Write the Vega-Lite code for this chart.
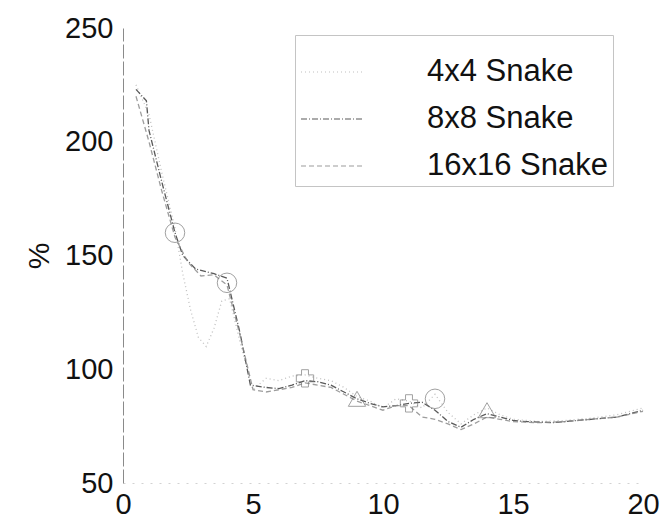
{
  "$schema": "https://vega.github.io/schema/vega-lite/v6.json",
  "width": 520,
  "height": 455,
  "autosize": {"type": "none"},
  "padding": {"left": 123, "top": 28, "right": 20, "bottom": 42},
  "background": "white",
  "config": {
    "view": {"stroke": null},
    "font": "Liberation Sans",
    "axis": {
      "grid": false,
      "ticks": false,
      "labelFont": "Liberation Sans",
      "labelFontSize": 29,
      "labelColor": "#111",
      "titleFont": "Liberation Sans",
      "titleFontSize": 30,
      "titleFontWeight": "normal",
      "titleColor": "#111"
    },
    "legend": {
      "labelFont": "Liberation Sans",
      "labelFontSize": 31,
      "labelColor": "#111",
      "labelLimit": 400
    }
  },
  "datasets": {
    "curves": [
      {"series": "4x4 Snake", "t": 0.5, "pct": 225},
      {"series": "4x4 Snake", "t": 1, "pct": 212},
      {"series": "4x4 Snake", "t": 1.5, "pct": 186},
      {"series": "4x4 Snake", "t": 2, "pct": 162},
      {"series": "4x4 Snake", "t": 2.3, "pct": 142},
      {"series": "4x4 Snake", "t": 2.6, "pct": 126},
      {"series": "4x4 Snake", "t": 2.9, "pct": 114},
      {"series": "4x4 Snake", "t": 3.2, "pct": 110},
      {"series": "4x4 Snake", "t": 3.5, "pct": 118},
      {"series": "4x4 Snake", "t": 3.8, "pct": 130},
      {"series": "4x4 Snake", "t": 4.1, "pct": 131},
      {"series": "4x4 Snake", "t": 4.5, "pct": 112},
      {"series": "4x4 Snake", "t": 5, "pct": 91},
      {"series": "4x4 Snake", "t": 5.5, "pct": 96},
      {"series": "4x4 Snake", "t": 6, "pct": 95},
      {"series": "4x4 Snake", "t": 6.5, "pct": 97},
      {"series": "4x4 Snake", "t": 7, "pct": 97.5},
      {"series": "4x4 Snake", "t": 7.5, "pct": 96},
      {"series": "4x4 Snake", "t": 8, "pct": 95},
      {"series": "4x4 Snake", "t": 8.5, "pct": 92},
      {"series": "4x4 Snake", "t": 9, "pct": 88},
      {"series": "4x4 Snake", "t": 9.5, "pct": 86},
      {"series": "4x4 Snake", "t": 10, "pct": 83},
      {"series": "4x4 Snake", "t": 10.5, "pct": 87},
      {"series": "4x4 Snake", "t": 11, "pct": 86},
      {"series": "4x4 Snake", "t": 11.5, "pct": 83},
      {"series": "4x4 Snake", "t": 12, "pct": 89},
      {"series": "4x4 Snake", "t": 12.5, "pct": 81},
      {"series": "4x4 Snake", "t": 13, "pct": 76},
      {"series": "4x4 Snake", "t": 13.5, "pct": 80},
      {"series": "4x4 Snake", "t": 14, "pct": 83},
      {"series": "4x4 Snake", "t": 14.5, "pct": 80},
      {"series": "4x4 Snake", "t": 15, "pct": 78},
      {"series": "4x4 Snake", "t": 16, "pct": 77},
      {"series": "4x4 Snake", "t": 17, "pct": 77.5},
      {"series": "4x4 Snake", "t": 18, "pct": 78.5},
      {"series": "4x4 Snake", "t": 19, "pct": 80},
      {"series": "4x4 Snake", "t": 20, "pct": 83},

      {"series": "8x8 Snake", "t": 0.5, "pct": 223},
      {"series": "8x8 Snake", "t": 0.9, "pct": 218},
      {"series": "8x8 Snake", "t": 1, "pct": 205},
      {"series": "8x8 Snake", "t": 1.5, "pct": 182},
      {"series": "8x8 Snake", "t": 2, "pct": 160},
      {"series": "8x8 Snake", "t": 2.3, "pct": 150},
      {"series": "8x8 Snake", "t": 2.8, "pct": 144},
      {"series": "8x8 Snake", "t": 3.5, "pct": 142},
      {"series": "8x8 Snake", "t": 4, "pct": 140},
      {"series": "8x8 Snake", "t": 4.5, "pct": 116},
      {"series": "8x8 Snake", "t": 4.9, "pct": 93},
      {"series": "8x8 Snake", "t": 5.5, "pct": 92},
      {"series": "8x8 Snake", "t": 6, "pct": 91.5},
      {"series": "8x8 Snake", "t": 6.5, "pct": 93},
      {"series": "8x8 Snake", "t": 7, "pct": 95},
      {"series": "8x8 Snake", "t": 7.5, "pct": 94.5},
      {"series": "8x8 Snake", "t": 8, "pct": 93},
      {"series": "8x8 Snake", "t": 8.5, "pct": 90},
      {"series": "8x8 Snake", "t": 9, "pct": 87},
      {"series": "8x8 Snake", "t": 9.5, "pct": 85},
      {"series": "8x8 Snake", "t": 10, "pct": 83.5},
      {"series": "8x8 Snake", "t": 10.5, "pct": 84},
      {"series": "8x8 Snake", "t": 11, "pct": 85},
      {"series": "8x8 Snake", "t": 11.5, "pct": 85.5},
      {"series": "8x8 Snake", "t": 12, "pct": 82},
      {"series": "8x8 Snake", "t": 12.5, "pct": 77},
      {"series": "8x8 Snake", "t": 13, "pct": 74.5},
      {"series": "8x8 Snake", "t": 13.5, "pct": 78},
      {"series": "8x8 Snake", "t": 14, "pct": 80.5},
      {"series": "8x8 Snake", "t": 14.5, "pct": 79},
      {"series": "8x8 Snake", "t": 15, "pct": 77.5},
      {"series": "8x8 Snake", "t": 15.5, "pct": 77},
      {"series": "8x8 Snake", "t": 16, "pct": 76.8},
      {"series": "8x8 Snake", "t": 16.5, "pct": 76.5},
      {"series": "8x8 Snake", "t": 17, "pct": 77},
      {"series": "8x8 Snake", "t": 17.5, "pct": 77.5},
      {"series": "8x8 Snake", "t": 18, "pct": 78},
      {"series": "8x8 Snake", "t": 18.5, "pct": 78.5},
      {"series": "8x8 Snake", "t": 19, "pct": 79},
      {"series": "8x8 Snake", "t": 19.5, "pct": 80.5},
      {"series": "8x8 Snake", "t": 20, "pct": 82},

      {"series": "16x16 Snake", "t": 0.5, "pct": 220},
      {"series": "16x16 Snake", "t": 1, "pct": 200},
      {"series": "16x16 Snake", "t": 1.5, "pct": 178},
      {"series": "16x16 Snake", "t": 2, "pct": 158},
      {"series": "16x16 Snake", "t": 2.5, "pct": 147},
      {"series": "16x16 Snake", "t": 3, "pct": 141},
      {"series": "16x16 Snake", "t": 3.5, "pct": 141.5},
      {"series": "16x16 Snake", "t": 4, "pct": 137},
      {"series": "16x16 Snake", "t": 4.5, "pct": 115},
      {"series": "16x16 Snake", "t": 5, "pct": 91},
      {"series": "16x16 Snake", "t": 5.5, "pct": 90},
      {"series": "16x16 Snake", "t": 6, "pct": 91},
      {"series": "16x16 Snake", "t": 6.5, "pct": 92},
      {"series": "16x16 Snake", "t": 7, "pct": 94},
      {"series": "16x16 Snake", "t": 7.5, "pct": 93},
      {"series": "16x16 Snake", "t": 8, "pct": 92},
      {"series": "16x16 Snake", "t": 8.5, "pct": 89},
      {"series": "16x16 Snake", "t": 9, "pct": 86},
      {"series": "16x16 Snake", "t": 9.5, "pct": 84},
      {"series": "16x16 Snake", "t": 10, "pct": 82},
      {"series": "16x16 Snake", "t": 10.5, "pct": 84},
      {"series": "16x16 Snake", "t": 11, "pct": 84},
      {"series": "16x16 Snake", "t": 11.5, "pct": 79},
      {"series": "16x16 Snake", "t": 12, "pct": 78},
      {"series": "16x16 Snake", "t": 12.5, "pct": 76},
      {"series": "16x16 Snake", "t": 13, "pct": 73.5},
      {"series": "16x16 Snake", "t": 13.5, "pct": 76},
      {"series": "16x16 Snake", "t": 14, "pct": 79},
      {"series": "16x16 Snake", "t": 14.5, "pct": 78},
      {"series": "16x16 Snake", "t": 15, "pct": 77},
      {"series": "16x16 Snake", "t": 16, "pct": 76.5},
      {"series": "16x16 Snake", "t": 17, "pct": 77},
      {"series": "16x16 Snake", "t": 18, "pct": 78},
      {"series": "16x16 Snake", "t": 19, "pct": 79},
      {"series": "16x16 Snake", "t": 20, "pct": 81.5}
    ],
    "markers": [
      {"curve": "4x4 Snake", "t": 2, "pct": 160},
      {"curve": "4x4 Snake", "t": 4, "pct": 138},
      {"curve": "4x4 Snake", "t": 12, "pct": 87},
      {"curve": "8x8 Snake", "t": 11, "pct": 85},
      {"curve": "8x8 Snake", "t": 7, "pct": 96},
      {"curve": "16x16 Snake", "t": 14, "pct": 82},
      {"curve": "16x16 Snake", "t": 9, "pct": 87}
    ]
  },
  "encoding": {
    "x": {
      "field": "t",
      "type": "quantitative",
      "scale": {"domain": [0, 20], "nice": false, "zero": false},
      "axis": {
        "title": null,
        "values": [0, 5, 10, 15, 20],
        "labelPadding": 7,
        "labelFlush": false,
        "domainColor": "#d2d2d2",
        "domainDash": [2, 7],
        "domainWidth": 1
      }
    },
    "y": {
      "field": "pct",
      "type": "quantitative",
      "scale": {"domain": [50, 250], "nice": false, "zero": false},
      "axis": {
        "title": "%",
        "values": [50, 100, 150, 200, 250],
        "labelPadding": 10,
        "labelFlush": false,
        "titlePadding": 10,
        "domainColor": "#8a8a8a",
        "domainDash": [14, 3],
        "domainWidth": 1
      }
    }
  },
  "layer": [
    {
      "data": {"name": "curves"},
      "mark": {"type": "line", "strokeWidth": 1.3, "opacity": 0.85},
      "encoding": {
        "color": {
          "field": "series",
          "type": "nominal",
          "sort": ["4x4 Snake", "8x8 Snake", "16x16 Snake"],
          "scale": {
            "domain": ["4x4 Snake", "8x8 Snake", "16x16 Snake"],
            "range": ["#b5b5b5", "#3c3c3c", "#8c8c8c"]
          },
          "legend": {
            "title": null,
            "orient": "none",
            "legendX": 172,
            "legendY": 7,
            "symbolType": "stroke",
            "symbolSize": 3844,
            "symbolStrokeWidth": 1.2,
            "labelOffset": 63,
            "rowPadding": 0,
            "padding": 5,
            "strokeColor": "#c4c4c4"
          }
        },
        "strokeDash": {
          "field": "series",
          "type": "nominal",
          "sort": ["4x4 Snake", "8x8 Snake", "16x16 Snake"],
          "scale": {
            "domain": ["4x4 Snake", "8x8 Snake", "16x16 Snake"],
            "range": [[1, 3], [6, 2, 1, 2], [5, 3]]
          },
          "legend": {
            "title": null,
            "orient": "none",
            "legendX": 172,
            "legendY": 7,
            "symbolType": "stroke",
            "symbolSize": 3844,
            "symbolStrokeWidth": 1.2,
            "labelOffset": 63,
            "rowPadding": 0,
            "padding": 5,
            "strokeColor": "#c4c4c4"
          }
        }
      }
    },
    {
      "data": {"name": "markers"},
      "transform": [{"filter": "datum.curve === '4x4 Snake'"}],
      "mark": {"type": "point", "shape": "circle", "filled": false, "strokeWidth": 1, "size": 380, "color": "#7a7a7a"},
      "encoding": {}
    },
    {
      "data": {"name": "markers"},
      "transform": [{"filter": "datum.curve === '8x8 Snake'"}],
      "mark": {"type": "point", "shape": "cross", "filled": false, "strokeWidth": 1, "size": 300, "color": "#7a7a7a"},
      "encoding": {}
    },
    {
      "data": {"name": "markers"},
      "transform": [{"filter": "datum.curve === '16x16 Snake'"}],
      "mark": {"type": "point", "shape": "triangle-up", "filled": false, "strokeWidth": 1, "size": 300, "color": "#7a7a7a"},
      "encoding": {}
    }
  ]
}
